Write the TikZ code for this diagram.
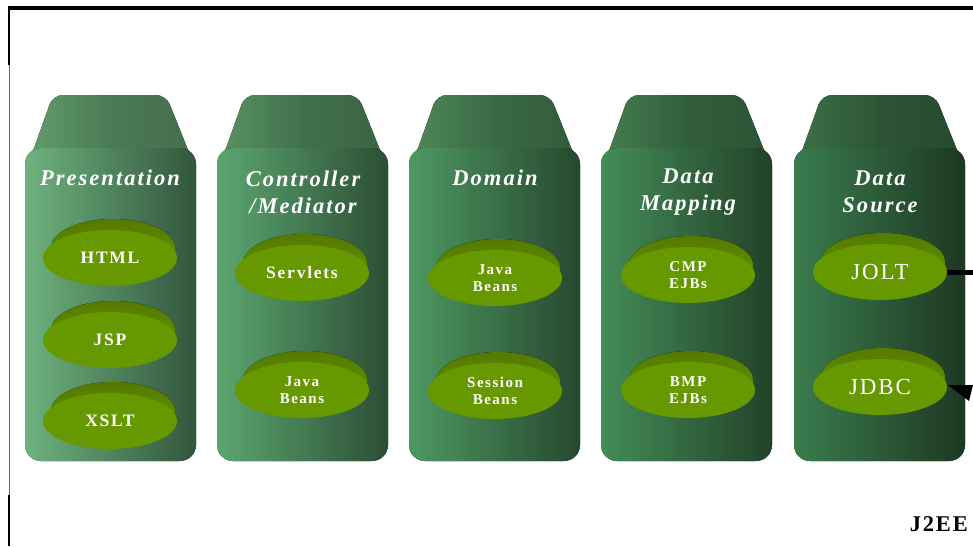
\documentclass[tikz,border=0pt]{standalone}
\usepackage{fontspec}
\setmainfont{Liberation Serif}
\newfontfamily\titlefont[LetterSpace=9]{Liberation Serif}
\newfontfamily\diskfont[LetterSpace=10]{Liberation Serif}
\newfontfamily\labelfont[LetterSpace=8]{Liberation Serif}
\usetikzlibrary{shapes.geometric}
\definecolor{diskface}{RGB}{102,152,0}
\definecolor{diskrim}{RGB}{84,122,0}
% column colours: body left, body right, cap middle, cap left, cap right
\definecolor{aL}{RGB}{110,178,126}\definecolor{aR}{RGB}{50,86,60}\definecolor{aM}{RGB}{75,122,85}\definecolor{aA}{RGB}{98,156,108}\definecolor{aB}{RGB}{68,110,76}
\definecolor{bL}{RGB}{92,166,112}\definecolor{bR}{RGB}{44,78,53}\definecolor{bM}{RGB}{66,112,76}\definecolor{bA}{RGB}{88,146,98}\definecolor{bB}{RGB}{58,100,66}
\definecolor{cL}{RGB}{78,152,98}\definecolor{cR}{RGB}{38,72,46}\definecolor{cM}{RGB}{58,104,68}\definecolor{cA}{RGB}{78,136,88}\definecolor{cB}{RGB}{50,92,58}
\definecolor{dL}{RGB}{68,140,88}\definecolor{dR}{RGB}{34,66,40}\definecolor{dM}{RGB}{50,94,60}\definecolor{dA}{RGB}{68,126,80}\definecolor{dB}{RGB}{44,84,52}
\definecolor{eL}{RGB}{58,124,78}\definecolor{eR}{RGB}{30,56,34}\definecolor{eM}{RGB}{44,84,52}\definecolor{eA}{RGB}{60,114,72}\definecolor{eB}{RGB}{38,74,44}
\newcommand\tiercol[2]{%
  % #1 left x, #2 colour prefix
  \fill[rounded corners=10pt,left color=#2A,right color=#2B,middle color=#2M]
    (#1+3,165) -- (#1+28,95) -- (#1+141,95) -- (#1+169,165) -- cycle;
  \fill[left color=#2L,right color=#2R,rounded corners=16pt]
    (#1,148) rectangle (#1+171,461);
}
\newcommand\tierdisk[5][diskbig]{%
  % [#1 font style], #2 name, #3 x, #4 y, #5 text
  \fill[top color=diskrim,bottom color=diskface] (#3+3,#4-10) ellipse [x radius=62pt, y radius=29pt];
  \node[diskbox,#1] (#2) at (#3,#4) {#5};
}
\tikzset{
  diskbox/.style={ellipse, fill=diskface, minimum width=134pt, minimum height=56pt, inner sep=0pt,
    text=white, align=center},
  diskbig/.style={font=\diskfont\fontsize{17.5}{18}\selectfont\bfseries},
  disksmall/.style={font=\diskfont\fontsize{15}{17}\selectfont\bfseries},
  diskplain/.style={font=\labelfont\fontsize{23}{24}\selectfont},
  tiertitle/.style={text=white, font=\titlefont\fontsize{22.5}{27}\selectfont\bfseries\itshape, align=center, inner sep=0pt}
}
\begin{document}
\begin{tikzpicture}[x=1pt,y=-1pt]
\useasboundingbox (0,0) rectangle (973,546);
\fill[white] (0,0) rectangle (973,546);
% frame
\draw[line width=3.5pt] (8,8) -- (973,8);
\draw[line width=2.5pt] (9,8) -- (9,65);
\draw[line width=0.8pt,black!60] (9,65) -- (9,495);
\draw[line width=2.5pt] (9,495) -- (9,546);
% columns
\tiercol{25}{a}
\tiercol{217}{b}
\tiercol{409}{c}
\tiercol{601}{d}
\tiercol{794}{e}
% titles
\node[tiertitle] (t1) at (110,178) {Presentation};
\node[tiertitle] (t2) at (303,192) {Controller\\/Mediator};
\node[tiertitle] (t3) at (495,178) {Domain};
\node[tiertitle] (t4) at (688,192) {Data\\Mapping};
\node[tiertitle] (t5) at (880,192) {Data\\Source};
% disks
\tierdisk{html}{110}{258}{HTML}
\tierdisk{jsp}{110}{340}{JSP}
\tierdisk{xslt}{110}{421}{XSLT}
\tierdisk{servlets}{302}{273}{Servlets}
\tierdisk[disksmall]{jbeansa}{302}{390}{Java\\Beans}
\tierdisk[disksmall]{jbeansb}{495}{278}{Java\\Beans}
\tierdisk[disksmall]{sbeans}{495}{391}{Session\\Beans}
\tierdisk[disksmall]{cmp}{688}{275}{CMP\\EJBs}
\tierdisk[disksmall]{bmp}{688}{390}{BMP\\EJBs}
\tierdisk[diskplain]{jolt}{880}{272}{JOLT}
\tierdisk[diskplain]{jdbc}{880}{387}{JDBC}
% connectors leaving the picture
\coordinate (joltout) at (973,272);
\draw[line width=5pt] (jolt.east) -- (jolt.east -| joltout);
\coordinate (jdbctip) at (948,385);
\fill (jdbctip) -- (973,385) -- (969,401) -- cycle;
% label
\node[font=\labelfont\fontsize{22.5}{23}\selectfont\bfseries, anchor=east, inner sep=0pt] (j2ee) at (968,524) {J2EE};
\end{tikzpicture}
\end{document}
